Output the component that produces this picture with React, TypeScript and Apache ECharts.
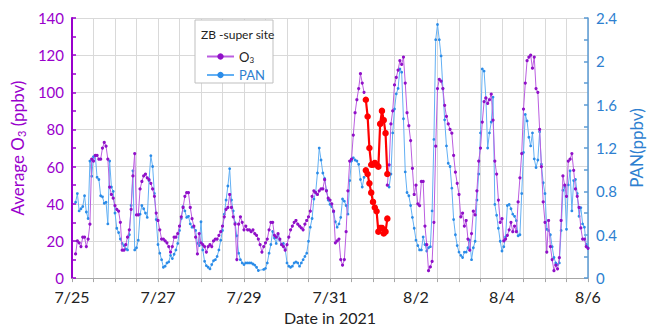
import React, { useEffect, useRef } from 'react';
import * as echarts from 'echarts';

// x axis: hours since 7/25 00:00, labels every 48 h
const dateLabels = ['7/25', '7/27', '7/29', '7/31', '8/2', '8/4', '8/6'];

// O3 (ppbv), hourly, from hour 2 to hour 163
const o3StartA = 2;
const o3A = [
  13, 20, 19, 17, 22, 22, 17, 21, 29,
  64, 63, 66, 66, 64, 64, 70, 73, 71, 64,
  49, 45, 43, 39, 37, 36, 30, 15, 15, 18,
  22, 26, 37, 55, 67, 34, 34, 48, 52, 55,
  56, 54, 53, 51, 48, 44, 35,
  31, 26, 21, 21, 20, 19, 17,
  14, 17, 22, 22, 24, 28, 33, 38, 44, 46, 46, 38, 32, 28, 22, 13, 24, 19, 18, 17, 14, 17, 18, 17, 20, 21,
  21, 23, 25, 28, 33, 37, 38, 45, 38, 33, 29, 10, 29, 33, 30, 26, 28,
  26, 26, 25, 26, 24, 23, 21, 18, 14, 17,
  19, 21, 26, 30, 30, 23, 22, 24, 21, 18,
  17, 15, 18, 22, 26, 28, 30, 31, 29, 28,
  27, 26, 29, 31, 33, 36, 44, 47, 46, 45,
  47, 48, 48, 53, 47, 43, 42, 40, 36, 19,
  20, 21, 10, 7, 10, 25, 47, 63, 64, 77,
  89, 96, 102, 110, 105, 100,
];
// O3 (ppbv), hourly, from hour 176 to hour 288
const o3StartB = 176;
const o3B = [
  50, 61, 83, 90, 104, 108, 112, 117, 115, 119,
  105, 89, 82, 74, 59, 45, 50, 40, 39, 52,
  52, 28, 18, 4, 6, 9, 30, 71, 102, 107,
  106, 102, 93, 87, 83, 80, 78, 66, 57, 51,
  45, 33, 35, 28, 31, 21, 15, 24, 36, 34,
  47, 63, 70, 84, 95, 97, 94, 96, 99, 85,
  63, 56, 42, 30, 32, 20, 21, 23, 26, 30,
  25, 28, 25,
  41, 54, 67, 91, 105, 117, 119, 120, 113, 119,
  102, 100, 80, 60, 41, 30, 14, 31, 17, 10,
  4, 7, 5, 11, 31, 55, 50, 44, 63, 64,
  67, 58, 48, 44, 38, 27, 21, 21, 17, 16,
];
// red highlighted O3 segments, hourly from hour 164
const redStart = 164;
const redUpper = [96, 87, 70, 61, 61, 62, 61, 60, 83, 90, 85, 78, 56];
const redLower = [58, 56, 51, 46, 41, 38, 36, 25, 27, 27, 24, 25, 32];

// PAN (ppbv), hourly
const panStartA = 2;
const panA = [
  0.70, 0.78, 0.62, 0.64, 0.66, 0.76, 0.61, 0.55, 1.08,
  0.94, 1.12, 1.13, 0.93, 0.91, 0.76, 0.75, 0.69, 0.70, 0.50,
  1.08, 0.84, 0.80, 0.60, 0.46, 0.42, 0.36, 0.32, 0.30, 0.27,
  0.26, 0.40, 0.67, 0.99, 0.26, 0.28, 0.35, 0.59, 0.67, 0.64,
  0.60, 0.56, 0.90, 1.13, 1.03, 0.78, 0.54,
  0.31, 0.23, 0.17, 0.10, 0.11, 0.14, 0.15, 0.21, 0.18, 0.22,
  0.26, 0.32, 0.44, 0.55, 0.66, 0.62, 0.56, 0.57, 0.50, 0.47,
  0.47, 0.44, 0.32, 0.30, 0.52, 0.26, 0.155, 0.115, 0.10, 0.085,
  0.125, 0.16, 0.17, 0.20, 0.26, 0.35, 0.44, 0.59, 0.72, 0.85,
  1.01, 0.72, 0.62, 0.51, 0.39, 0.23, 0.17, 0.14, 0.125, 0.14,
  0.14, 0.14, 0.14, 0.13, 0.12, 0.10, 0.07,
];
const panStartB = 107;
const panB = [
  0.08, 0.09, 0.14, 0.23, 0.31, 0.43, 0.37, 0.32, 0.40, 0.35,
  0.31, 0.32, 0.27, 0.14, 0.11, 0.10, 0.11, 0.14, 0.15, 0.14,
  0.11, 0.14, 0.17, 0.20, 0.23, 0.34, 0.47, 0.55, 0.73, 0.79,
  0.97, 1.20, 1.09, 0.97, 0.92, 0.81, 0.72, 0.68, 0.66, 0.61,
  0.52, 0.47, 0.50, 0.56, 0.73, 0.71, 0.67, 0.59, 0.90, 1.08,
  1.11, 1.09, 1.08, 1.05, 0.91, 0.84, 0.93,
];
const panStartC = 176;
const panC = [
  0.86, 0.84, 0.96, 1.34, 1.56, 1.70, 1.75, 1.93, 1.90, 1.47,
  0.98, 0.79, 0.76, 0.67, 0.56, 0.46, 0.35, 0.30, 0.26, 0.26,
  0.38, 0.31, 0.25, 0.28, 0.29, 0.62, 1.28, 2.20, 2.34, 2.20,
  2.05, 1.75, 1.46, 1.22, 1.06, 1.03, 0.83, 0.54, 0.40, 0.30,
  0.24, 0.21, 0.19, 0.24, 0.24, 0.28, 0.35, 0.17, 0.28, 0.34,
  0.72, 0.96, 1.34, 1.93, 1.91, 1.66, 1.20, 1.34, 1.44, 1.67,
  0.68, 0.58, 0.46, 0.34, 0.25, 0.29, 0.38, 0.67, 0.68, 0.64,
  0.59, 0.57, 0.53, 0.39, 0.40, 0.78, 1.16, 1.51, 1.45, 1.30,
  1.22, 1.34, 1.10, 1.02, 1.09, 1.35, 1.05, 0.88, 0.78, 0.45,
  0.44, 0.40, 0.29, 0.19, 0.14, 0.125, 0.14, 0.44, 0.81, 0.84,
  0.45, 0.86, 0.99, 0.62, 0.90, 0.91, 0.78, 0.57, 0.65, 0.50,
  0.47, 0.31, 0.28,
];

const PURPLE = '#9900cc';
const PURPLE_LINE = '#bb5ee0';
const BLUE = '#2e7fd0';
const BLUE_LINE = '#63b0f4';
const BLUE_DOT = '#2b8ce8';
const FONT = 'Lato, "Noto Sans", sans-serif';

const pairs = (start: number, arr: number[]) => arr.map((v, i) => [start + i, v]);

export default function App() {
  const ref = useRef<HTMLDivElement>(null);
  useEffect(() => {
    const chart = echarts.init(ref.current as HTMLDivElement, null, { renderer: 'svg' });
    const o3Style = {
      type: 'line' as const,
      name: 'O3',
      yAxisIndex: 0,
      symbol: 'circle',
      symbolSize: 3.2,
      lineStyle: { color: PURPLE_LINE, width: 1 },
      itemStyle: { color: '#9010c8' },
      z: 3,
    };
    const panStyle = {
      type: 'line' as const,
      name: 'PAN',
      yAxisIndex: 1,
      symbol: 'circle',
      symbolSize: 2.8,
      lineStyle: { color: BLUE_LINE, width: 1 },
      itemStyle: { color: BLUE_DOT },
      z: 2,
    };
    const redStyle = {
      type: 'line' as const,
      yAxisIndex: 0,
      symbol: 'circle',
      symbolSize: 6.5,
      lineStyle: { color: '#ff0000', width: 2.2 },
      itemStyle: { color: '#ff0000' },
      z: 4,
    };
    chart.setOption({
      animation: false,
      textStyle: { fontFamily: FONT },
      grid: { left: 72, right: 55, top: 18, bottom: 48 },
      xAxis: {
        type: 'value',
        min: 0,
        max: 288,
        interval: 48,
        name: 'Date in 2021',
        nameLocation: 'middle',
        nameGap: 30,
        nameTextStyle: { color: '#222', fontSize: 16, fontFamily: FONT },
        axisLine: { lineStyle: { color: '#a6a6a6' } },
        axisTick: { show: true, length: 4, lineStyle: { color: '#a6a6a6' } },
        minorTick: { show: true, splitNumber: 4, length: 4, lineStyle: { color: '#a6a6a6' } },
        splitLine: { show: true, lineStyle: { color: '#d9d9d9' } },
        minorSplitLine: { show: true, lineStyle: { color: '#d9d9d9' } },
        axisLabel: {
          color: '#222',
          fontSize: 16,
          margin: 10,
          fontFamily: FONT,
          formatter: (v: number) => dateLabels[Math.round(v / 48)] ?? '',
        },
      },
      yAxis: [
        {
          type: 'value',
          min: 0,
          max: 140,
          interval: 20,
          position: 'left',
          name: '{a|Average O}{b|3}{a| (ppbv)}',
          nameLocation: 'middle',
          nameRotate: 90,
          nameGap: 40,
          nameTextStyle: {
            color: PURPLE,
            rich: {
              a: { fontSize: 17, color: PURPLE, fontFamily: FONT },
              b: { fontSize: 11, color: PURPLE, fontFamily: FONT, padding: [8, 0, 0, 0] },
            },
          },
          axisLine: { show: true, lineStyle: { color: PURPLE, width: 2 } },
          axisTick: { show: true, inside: true, length: 4, lineStyle: { color: PURPLE, width: 1.5 } },
          minorTick: { show: true, splitNumber: 2, length: 4, lineStyle: { color: PURPLE, width: 1.5 } },
          splitLine: { show: true, lineStyle: { color: '#d9d9d9' } },
          axisLabel: { color: PURPLE, fontSize: 15, margin: 8, fontFamily: FONT },
        },
        {
          type: 'value',
          min: 0,
          max: 2.4,
          interval: 0.4,
          position: 'right',
          name: 'PAN(ppbv)',
          nameLocation: 'middle',
          nameRotate: 90,
          nameGap: 40,
          nameTextStyle: { color: BLUE, fontSize: 17, fontFamily: FONT },
          axisLine: { show: true, lineStyle: { color: '#5b9bd5', width: 1.5 } },
          axisTick: { show: true, inside: true, length: 4, lineStyle: { color: '#5b9bd5', width: 1.5 } },
          minorTick: { show: true, splitNumber: 2, length: 4, lineStyle: { color: '#5b9bd5', width: 1.5 } },
          splitLine: { show: false },
          axisLabel: {
            color: BLUE,
            fontSize: 15,
            margin: 8,
            fontFamily: FONT,
            formatter: (v: number) => String(+v.toFixed(1)),
          },
        },
      ],
      legend: {
        data: [
          { name: 'O3', textStyle: { color: '#222' } },
          { name: 'PAN', textStyle: { color: BLUE } },
        ],
        orient: 'vertical',
        left: 201,
        top: 45,
        itemWidth: 27,
        itemHeight: 8,
        itemGap: 5,
        z: 20,
        textStyle: {
          fontSize: 13,
          fontFamily: FONT,
          rich: {
            n: { fontSize: 13, color: '#222', fontFamily: FONT },
            s: { fontSize: 8, color: '#222', fontFamily: FONT, padding: [6, 0, 0, 0] },
          },
        },
        formatter: (name: string) => (name === 'O3' ? '{n|O}{s|3}' : name),
      },
      graphic: [
        {
          type: 'rect',
          z: 15,
          shape: { x: 195, y: 20, width: 78, height: 63 },
          style: { fill: '#ffffff', stroke: '#bfbfbf', lineWidth: 1 },
        },
        {
          type: 'text',
          z: 16,
          x: 201,
          y: 28,
          style: { text: 'ZB -super site', fill: '#222', fontSize: 12, fontFamily: FONT },
        },
      ],
      series: [
        { ...o3Style, data: pairs(o3StartA, o3A) },
        { ...o3Style, data: pairs(o3StartB, o3B) },
        { ...panStyle, data: [...pairs(panStartA, panA), ...pairs(panStartB, panB)] },
        { ...panStyle, data: pairs(panStartC, panC) },
        { ...redStyle, name: 'O3 flagged a', data: pairs(redStart, redUpper) },
        { ...redStyle, name: 'O3 flagged b', data: pairs(redStart, redLower) },
      ],
    });
    return () => chart.dispose();
  }, []);
  return (
    <div
      ref={ref}
      style={{ position: 'fixed', left: 0, top: 0, width: 653, height: 330, background: '#fff' }}
    />
  );
}
